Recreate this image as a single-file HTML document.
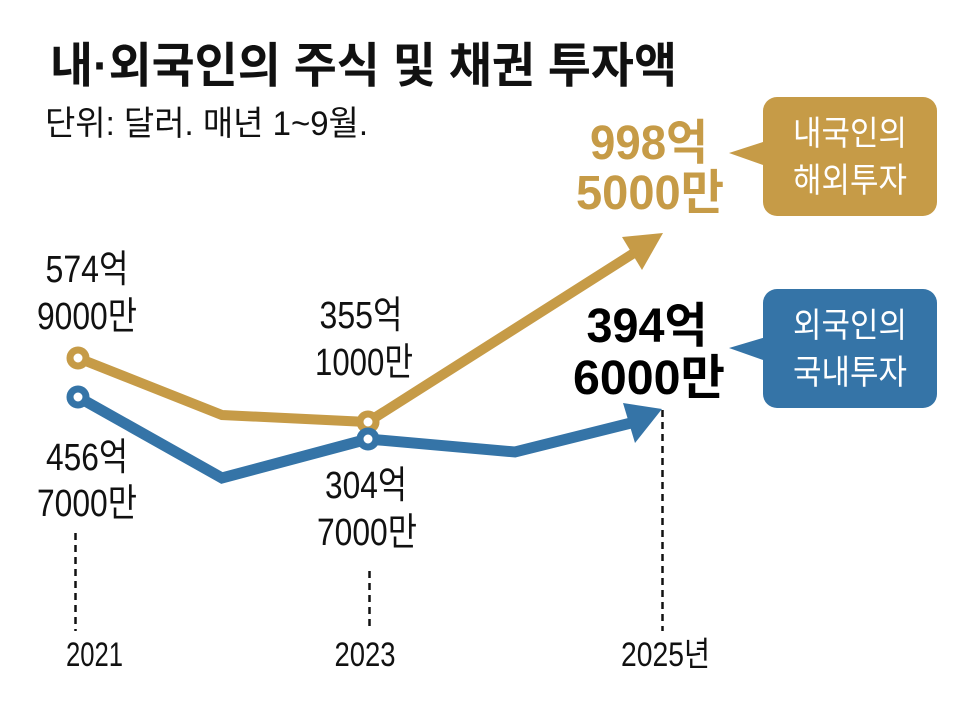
<!DOCTYPE html>
<html>
<head>
<meta charset="utf-8">
<style>
html,body{margin:0;padding:0;background:#fff;}
svg{display:block;}
text{font-family:"Liberation Sans","Noto Sans CJK KR","NanumGothic",sans-serif;}
</style>
</head>
<body>
<svg width="963" height="708" viewBox="0 0 963 708" xmlns="http://www.w3.org/2000/svg">
<rect width="963" height="708" fill="#fff"/>

<!-- Title -->
<text x="50" y="82" font-size="48" font-weight="bold" fill="#111" textLength="627" lengthAdjust="spacingAndGlyphs">내·외국인의 주식 및 채권 투자액</text>
<text x="45" y="135" font-size="34" fill="#111" textLength="323" lengthAdjust="spacingAndGlyphs">단위: 달러. 매년 1~9월.</text>

<!-- dashed guide lines -->
<g stroke="#111" stroke-width="2.5" stroke-dasharray="7 5" fill="none">
<line x1="75.5" y1="533" x2="75.5" y2="631"/>
<line x1="369.5" y1="571" x2="369.5" y2="631"/>
<line x1="662.5" y1="410" x2="662.5" y2="631"/>
</g>

<!-- gold series -->
<polyline points="78,358 222,415 368,422 634,253" fill="none" stroke="#C69B47" stroke-width="10" stroke-linejoin="miter"/>
<polygon points="663,233 622,237 642,270" fill="#C69B47"/>
<circle cx="78" cy="358" r="8" fill="#fff" stroke="#C69B47" stroke-width="7"/>
<circle cx="368" cy="422" r="8" fill="#fff" stroke="#C69B47" stroke-width="7"/>

<!-- blue series -->
<polyline points="78,397 222,478 368,439 515,452 631,423" fill="none" stroke="#3574A7" stroke-width="11" stroke-linejoin="miter"/>
<polygon points="662,409 623,403 635,443" fill="#3574A7"/>
<circle cx="78" cy="397" r="8" fill="#fff" stroke="#3574A7" stroke-width="7"/>
<circle cx="368" cy="439" r="8" fill="#fff" stroke="#3574A7" stroke-width="7"/>

<!-- data labels -->
<g font-size="38" fill="#111" text-anchor="middle">
<text x="87" y="282" textLength="83" lengthAdjust="spacingAndGlyphs">574억</text>
<text x="87" y="329" textLength="100" lengthAdjust="spacingAndGlyphs">9000만</text>
<text x="87" y="470" textLength="82" lengthAdjust="spacingAndGlyphs">456억</text>
<text x="87" y="516" textLength="100" lengthAdjust="spacingAndGlyphs">7000만</text>
<text x="361" y="328" textLength="83" lengthAdjust="spacingAndGlyphs">355억</text>
<text x="364" y="375" textLength="98" lengthAdjust="spacingAndGlyphs">1000만</text>
<text x="366" y="498" textLength="82" lengthAdjust="spacingAndGlyphs">304억</text>
<text x="367" y="545" textLength="100" lengthAdjust="spacingAndGlyphs">7000만</text>
</g>

<!-- big labels -->
<g font-size="48" font-weight="bold" text-anchor="middle">
<text x="649" y="159" fill="#C69B47" textLength="118" lengthAdjust="spacingAndGlyphs">998억</text>
<text x="650" y="209" fill="#C69B47" textLength="148" lengthAdjust="spacingAndGlyphs">5000만</text>
<text x="647" y="342" fill="#000" textLength="121" lengthAdjust="spacingAndGlyphs">394억</text>
<text x="649" y="394" fill="#000" textLength="152" lengthAdjust="spacingAndGlyphs">6000만</text>
</g>

<!-- axis labels -->
<g font-size="34" fill="#111" text-anchor="middle">
<text x="94.5" y="666" textLength="57" lengthAdjust="spacingAndGlyphs">2021</text>
<text x="365" y="666" textLength="61" lengthAdjust="spacingAndGlyphs">2023</text>
<text x="665.5" y="666" textLength="89" lengthAdjust="spacingAndGlyphs">2025년</text>
</g>

<!-- callouts -->
<rect x="763" y="97" width="174" height="119" rx="14" fill="#C69B47"/>
<polygon points="729,153 766,141 766,166" fill="#C69B47"/>
<rect x="763" y="289" width="174" height="119" rx="14" fill="#3574A7"/>
<polygon points="729,348 766,337 766,361" fill="#3574A7"/>
<g font-size="34" fill="#fff" text-anchor="middle">
<text x="850" y="145" textLength="114" lengthAdjust="spacingAndGlyphs">내국인의</text>
<text x="850" y="192" textLength="114" lengthAdjust="spacingAndGlyphs">해외투자</text>
<text x="850" y="337" textLength="114" lengthAdjust="spacingAndGlyphs">외국인의</text>
<text x="850" y="384" textLength="114" lengthAdjust="spacingAndGlyphs">국내투자</text>
</g>
</svg>
</body>
</html>
